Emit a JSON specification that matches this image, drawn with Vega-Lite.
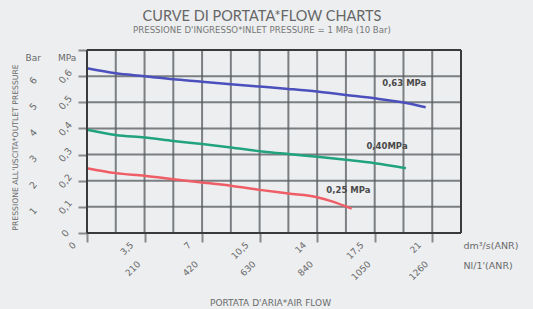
{
  "$schema": "https://vega.github.io/schema/vega-lite/v6.json",
  "width": 374,
  "height": 183,
  "autosize": {"type": "none"},
  "padding": {"left": 87, "top": 50, "right": 72, "bottom": 76},
  "background": "#eceef0",
  "title": {
    "text": "CURVE DI PORTATA*FLOW CHARTS",
    "subtitle": "PRESSIONE D'INGRESSO*INLET PRESSURE = 1 MPa (10 Bar)",
    "anchor": "middle",
    "dx": -12,
    "offset": 11,
    "font": "Lato",
    "fontSize": 14.5,
    "fontWeight": "normal",
    "color": "#666666",
    "subtitleFont": "DejaVu Sans",
    "subtitleFontSize": 8.6,
    "subtitleColor": "#777777",
    "subtitlePadding": 2
  },
  "config": {
    "view": {"stroke": null},
    "axis": {"labelFont": "DejaVu Sans", "titleFont": "DejaVu Sans", "labelColor": "#6a6a6a", "titleColor": "#6a6a6a", "domain": false}
  },
  "datasets": {
    "gridx": [
      {"flow": 1.75}, {"flow": 3.5}, {"flow": 5.25}, {"flow": 7}, {"flow": 8.75}, {"flow": 10.5},
      {"flow": 12.25}, {"flow": 14}, {"flow": 15.75}, {"flow": 17.5}, {"flow": 19.25}, {"flow": 21}
    ],
    "gridy": [
      {"pressure": 0.1}, {"pressure": 0.2}, {"pressure": 0.3}, {"pressure": 0.4}, {"pressure": 0.5}, {"pressure": 0.6}
    ],
    "xframe": [{"flow": 0}, {"flow": 22.75}],
    "yframe": [{"pressure": 0}, {"pressure": 0.7}],
    "curves": [
      {"series": "0,63 MPa", "flow": 0, "pressure": 0.63},
      {"series": "0,63 MPa", "flow": 1.75, "pressure": 0.611},
      {"series": "0,63 MPa", "flow": 3.5, "pressure": 0.6},
      {"series": "0,63 MPa", "flow": 5.25, "pressure": 0.588},
      {"series": "0,63 MPa", "flow": 7, "pressure": 0.579},
      {"series": "0,63 MPa", "flow": 8.75, "pressure": 0.569},
      {"series": "0,63 MPa", "flow": 10.5, "pressure": 0.56},
      {"series": "0,63 MPa", "flow": 12.25, "pressure": 0.551},
      {"series": "0,63 MPa", "flow": 14, "pressure": 0.541},
      {"series": "0,63 MPa", "flow": 15.75, "pressure": 0.528},
      {"series": "0,63 MPa", "flow": 17.5, "pressure": 0.515},
      {"series": "0,63 MPa", "flow": 19.25, "pressure": 0.499},
      {"series": "0,63 MPa", "flow": 20.6, "pressure": 0.481},
      {"series": "0,40MPa", "flow": 0, "pressure": 0.395},
      {"series": "0,40MPa", "flow": 1.75, "pressure": 0.375},
      {"series": "0,40MPa", "flow": 3.5, "pressure": 0.365},
      {"series": "0,40MPa", "flow": 5.25, "pressure": 0.352},
      {"series": "0,40MPa", "flow": 7, "pressure": 0.34},
      {"series": "0,40MPa", "flow": 8.75, "pressure": 0.327},
      {"series": "0,40MPa", "flow": 10.5, "pressure": 0.313},
      {"series": "0,40MPa", "flow": 12.25, "pressure": 0.302},
      {"series": "0,40MPa", "flow": 14, "pressure": 0.292},
      {"series": "0,40MPa", "flow": 15.75, "pressure": 0.28},
      {"series": "0,40MPa", "flow": 17.5, "pressure": 0.267},
      {"series": "0,40MPa", "flow": 19.4, "pressure": 0.248},
      {"series": "0,25 MPa", "flow": 0, "pressure": 0.248},
      {"series": "0,25 MPa", "flow": 1.75, "pressure": 0.229},
      {"series": "0,25 MPa", "flow": 3.5, "pressure": 0.219},
      {"series": "0,25 MPa", "flow": 5.25, "pressure": 0.206},
      {"series": "0,25 MPa", "flow": 7, "pressure": 0.193},
      {"series": "0,25 MPa", "flow": 8.75, "pressure": 0.181},
      {"series": "0,25 MPa", "flow": 10.5, "pressure": 0.165},
      {"series": "0,25 MPa", "flow": 12.25, "pressure": 0.151},
      {"series": "0,25 MPa", "flow": 14, "pressure": 0.137},
      {"series": "0,25 MPa", "flow": 14.9, "pressure": 0.121},
      {"series": "0,25 MPa", "flow": 16.1, "pressure": 0.093}
    ],
    "labels": [
      {"label": "0,63 MPa", "flow": 19.3, "pressure": 0.574},
      {"label": "0,40MPa", "flow": 18.25, "pressure": 0.333},
      {"label": "0,25 MPa", "flow": 15.9, "pressure": 0.165}
    ]
  },
  "resolve": {"axis": {"x": "independent", "y": "independent"}},
  "layer": [
    {
      "data": {"name": "gridx"},
      "mark": {"type": "rule", "color": "#55595e", "strokeWidth": 2, "opacity": 0.75},
      "encoding": {
        "x": {"field": "flow", "type": "quantitative", "axis": null}
      }
    },
    {
      "data": {"name": "gridy"},
      "mark": {"type": "rule", "color": "#55595e", "strokeWidth": 2, "opacity": 0.75},
      "encoding": {
        "y": {"field": "pressure", "type": "quantitative", "axis": null}
      }
    },
    {
      "data": {"name": "curves"},
      "mark": {"type": "line", "strokeWidth": 2.5, "interpolate": "monotone"},
      "encoding": {
        "x": {
          "field": "flow", "type": "quantitative",
          "scale": {"domain": [0, 22.75], "nice": false, "zero": false},
          "axis": {
            "orient": "bottom",
            "values": [0, 3.5, 7, 10.5, 14, 17.5, 21],
            "labelExpr": "replace(format(datum.value, '~g'), '.', ',')",
            "grid": false,
            "ticks": true, "tickSize": 9, "tickColor": "#8a8a8a", "tickWidth": 2,
            "labelAngle": -45, "labelAlign": "right", "labelBaseline": "middle",
            "labelPadding": 1, "labelOffset": -13, "labelFontSize": 9,
            "title": ["dm³/s(ANR)", "Nl/1'(ANR)"],
            "titleFontSize": 9.5, "titleFontWeight": "normal",
            "titleAngle": 0, "titleAlign": "left", "titleBaseline": "middle",
            "titleLineHeight": 20,
            "titleX": 376, "titleY": 12
          }
        },
        "y": {
          "field": "pressure", "type": "quantitative",
          "scale": {"domain": [0, 0.7], "nice": false},
          "axis": {
            "orient": "left",
            "values": [0, 0.1, 0.2, 0.3, 0.4, 0.5, 0.6, 0.7],
            "labelExpr": "datum.value > 0.65 ? '' : replace(format(datum.value, '.1~f'), '.', ',')",
            "grid": false,
            "ticks": true, "tickSize": 9, "tickColor": "#8a8a8a", "tickWidth": 2,
            "labelAngle": -50, "labelAlign": "center", "labelBaseline": "middle",
            "labelPadding": 13, "labelFontSize": 9.5,
            "title": "Bar\u00a0\u00a0\u00a0\u00a0\u00a0\u00a0MPa",
            "titleFontSize": 9, "titleFontWeight": "normal",
            "titleAngle": 0, "titleAlign": "left", "titleBaseline": "middle",
            "titleX": -62, "titleY": 7
          }
        },
        "color": {
          "field": "series", "type": "nominal",
          "scale": {"domain": ["0,63 MPa", "0,40MPa", "0,25 MPa"], "range": ["#4b50bd", "#22a37f", "#ef5d66"]},
          "legend": null
        }
      }
    },
    {
      "data": {"name": "labels"},
      "mark": {"type": "text", "font": "DejaVu Sans", "fontWeight": "bold", "fontSize": 8.5, "color": "#4a4a4a"},
      "encoding": {
        "x": {
          "field": "flow", "type": "quantitative",
          "axis": {
            "orient": "bottom",
            "offset": 27,
            "values": [3.5, 7, 10.5, 14, 17.5, 21],
            "labelExpr": "format(round(datum.value*60), 'd')",
            "grid": false, "ticks": false,
            "labelAngle": -45, "labelAlign": "right", "labelBaseline": "middle",
            "labelPadding": 2, "labelOffset": -6, "labelFontSize": 9,
            "title": "PORTATA D'ARIA*AIR FLOW",
            "titleFontSize": 9, "titleFontWeight": "normal",
            "titleAngle": 0, "titleAlign": "center", "titleBaseline": "middle",
            "titleX": 183, "titleY": 42
          }
        },
        "y": {
          "field": "pressure", "type": "quantitative",
          "axis": {
            "orient": "left",
            "values": [0.1, 0.2, 0.3, 0.4, 0.5, 0.6],
            "labelExpr": "round(datum.value*10) + ''",
            "grid": false, "ticks": false,
            "labelAngle": -50, "labelAlign": "center", "labelBaseline": "middle",
            "labelPadding": 54, "labelOffset": 4, "labelFontSize": 9.5,
            "title": "PRESSIONE ALL'USCITA*OUTLET PRESSURE",
            "titleFontSize": 7.7, "titleFontWeight": "normal",
            "titleAngle": -90, "titleAlign": "center", "titleBaseline": "middle",
            "titleX": -72, "titleY": 97
          }
        },
        "text": {"field": "label", "type": "nominal"}
      }
    },
    {
      "data": {"name": "xframe"},
      "mark": {"type": "rule", "color": "#3a3a3a", "strokeWidth": 2},
      "encoding": {
        "x": {"field": "flow", "type": "quantitative", "axis": null}
      }
    },
    {
      "data": {"name": "yframe"},
      "mark": {"type": "rule", "color": "#3a3a3a", "strokeWidth": 2},
      "encoding": {
        "y": {"field": "pressure", "type": "quantitative", "axis": null}
      }
    }
  ]
}
